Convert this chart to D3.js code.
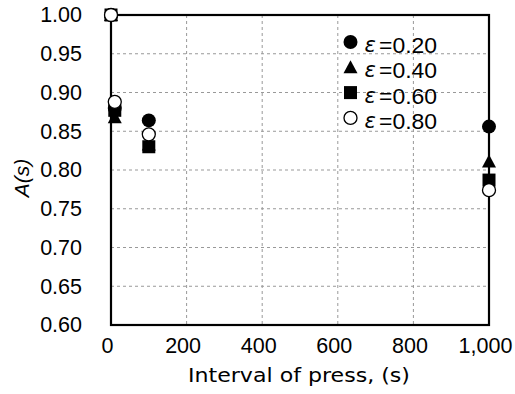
<!DOCTYPE html>
<html><head><meta charset="utf-8">
<script src="https://cdn.jsdelivr.net/npm/d3@7"></script>
<style>body{margin:0;background:#fff}svg{display:block}</style>
</head><body><svg id="c" width="515" height="394"></svg>
<script>
const xValues = [0, 10, 100, 1000];
const seriesLabels = ["=0.20", "=0.40", "=0.60", "=0.80"];
const eps020 = [1.00, 0.880, 0.864, 0.856];
const eps040 = [1.00, 0.868, 0.833, 0.811];
const eps060 = [1.00, 0.877, 0.830, 0.787];
const eps080 = [1.00, 0.888, 0.846, 0.774];
const xTicks = [0, 200, 400, 600, 800, 1000];
const yTicks = [0.60, 0.65, 0.70, 0.75, 0.80, 0.85, 0.90, 0.95, 1.00];

const series = [eps020, eps040, eps060, eps080];
const svg = d3.select("#c");
const m = {l:111, r:489, t:15, b:325};
const x = d3.scaleLinear().domain([0,1000]).range([m.l, m.r]);
const y = d3.scaleLinear().domain([0.60,1.00]).range([m.b, m.t]);
const SANS = "'Liberation Sans', Arial, Helvetica, sans-serif";

// grid
const g = svg.append("g");
g.selectAll(".vg").data(xTicks.slice(1,-1)).join("line")
  .attr("x1", d=>x(d)).attr("x2", d=>x(d)).attr("y1", m.t).attr("y2", m.b)
  .attr("stroke","#999").attr("stroke-width",1).attr("stroke-dasharray","3,3");
g.selectAll(".hg").data(yTicks.slice(1,-1)).join("line")
  .attr("y1", d=>y(d)).attr("y2", d=>y(d)).attr("x1", m.l).attr("x2", m.r)
  .attr("stroke","#999").attr("stroke-width",1).attr("stroke-dasharray","3,3");

// axes
const xAxis = d3.axisBottom(x).tickValues(xTicks).tickFormat(d3.format(",")).tickSize(0).tickPadding(13);
const yAxis = d3.axisLeft(y).tickValues(yTicks).tickFormat(d3.format(".2f")).tickSize(0).tickPadding(29);
const xa = svg.append("g").attr("transform",`translate(0,${m.b})`).call(xAxis);
const ya = svg.append("g").attr("transform",`translate(${m.l},0)`).call(yAxis);
[xa, ya].forEach(a => {
  a.select(".domain").remove();
  a.selectAll("text").attr("font-family",SANS).attr("font-size",21.5).attr("fill","#000");
});
xa.selectAll("text").attr("dy","0.71em").attr("dx",-4);

// frame
svg.append("rect").attr("x",m.l).attr("y",m.t).attr("width",m.r-m.l).attr("height",m.b-m.t)
  .attr("fill","none").attr("stroke","#000").attr("stroke-width",2.2);

// titles
svg.append("text").attr("x", 188).attr("y", 382)
  .attr("font-family","'DejaVu Sans', sans-serif").attr("font-size",20)
  .attr("textLength",222).attr("lengthAdjust","spacingAndGlyphs").text("Interval of press, (s)");
svg.append("text").attr("transform","translate(29,178) rotate(-90)").attr("text-anchor","middle")
  .attr("font-family",SANS).attr("font-style","italic").attr("font-size",21).text("A(s)");

// markers
function marker(sel, i, cx, cy){
  if(i===0) sel.append("circle").attr("cx",cx).attr("cy",cy).attr("r",7).attr("fill","#000");
  else if(i===1) sel.append("path").attr("d",`M${cx},${cy-7}L${cx+7},${cy+6}L${cx-7},${cy+6}Z`).attr("fill","#000");
  else if(i===2) sel.append("rect").attr("x",cx-6.5).attr("y",cy-6.5).attr("width",13).attr("height",13).attr("fill","#000");
  else sel.append("circle").attr("cx",cx).attr("cy",cy).attr("r",6.5).attr("fill","#fff").attr("stroke","#000").attr("stroke-width",1.3);
}
const pts = svg.append("g");
series.forEach((s,i)=>{
  s.forEach((v,j)=>marker(pts, i, x(xValues[j]), y(v)));
});

// legend
const lg = svg.append("g");
seriesLabels.forEach((n,i)=>{
  const yy = 42 + i*25.3;
  marker(lg, i, 350.5, yy);
  lg.append("text").attr("x",364.5).attr("y",yy+10).attr("font-family","'DejaVu Sans', sans-serif")
    .attr("font-style","italic").attr("font-size",21).text("ε");
  lg.append("text").attr("x",379).attr("y",yy+11).attr("font-family",SANS).attr("font-size",21.5)
    .attr("textLength",58).attr("lengthAdjust","spacingAndGlyphs").text(n);
});
</script></body></html>
